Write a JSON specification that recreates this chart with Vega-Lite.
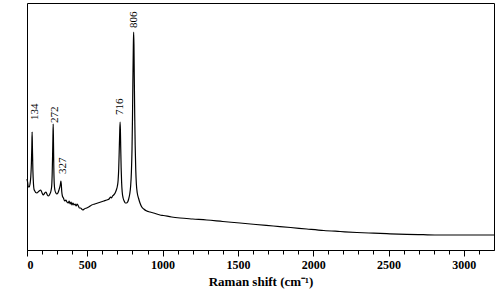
{
  "$schema": "https://vega.github.io/schema/vega-lite/v6.json",
  "width": 467,
  "height": 247,
  "autosize": {"type": "none"},
  "padding": {"left": 27, "top": 3, "right": 6, "bottom": 46},
  "config": {
    "view": {"stroke": "black", "strokeWidth": 1},
    "font": "Liberation Serif",
    "axisX": {"ticks": true, "tickColor": "#000000", "tickWidth": 1, "tickOpacity": 1, "zindex": 2, "tickRound": true}
  },
  "datasets": {
    "spectrum": [
      {"shift": 100, "counts": 71}, {"shift": 104, "counts": 68}, {"shift": 109, "counts": 63},
      {"shift": 115, "counts": 63}, {"shift": 120, "counts": 66}, {"shift": 125, "counts": 73},
      {"shift": 129, "counts": 86}, {"shift": 132, "counts": 103}, {"shift": 134, "counts": 118},
      {"shift": 136, "counts": 102}, {"shift": 139, "counts": 80}, {"shift": 143, "counts": 66},
      {"shift": 148, "counts": 60}, {"shift": 165, "counts": 57}, {"shift": 180, "counts": 59},
      {"shift": 191, "counts": 60}, {"shift": 200, "counts": 57}, {"shift": 208, "counts": 55},
      {"shift": 218, "counts": 57}, {"shift": 226, "counts": 58}, {"shift": 235, "counts": 55},
      {"shift": 242, "counts": 54}, {"shift": 252, "counts": 56}, {"shift": 259, "counts": 59},
      {"shift": 264, "counts": 64}, {"shift": 267, "counts": 75}, {"shift": 270, "counts": 95},
      {"shift": 272, "counts": 112}, {"shift": 274, "counts": 126}, {"shift": 276, "counts": 105},
      {"shift": 278, "counts": 82}, {"shift": 281, "counts": 66}, {"shift": 285, "counts": 60},
      {"shift": 292, "counts": 57}, {"shift": 298, "counts": 56}, {"shift": 305, "counts": 57},
      {"shift": 312, "counts": 60}, {"shift": 318, "counts": 63}, {"shift": 322, "counts": 66},
      {"shift": 325, "counts": 69}, {"shift": 328, "counts": 65}, {"shift": 331, "counts": 58},
      {"shift": 335, "counts": 54}, {"shift": 342, "counts": 52}, {"shift": 350, "counts": 49},
      {"shift": 358, "counts": 50}, {"shift": 365, "counts": 48}, {"shift": 374, "counts": 47},
      {"shift": 380, "counts": 49}, {"shift": 386, "counts": 46}, {"shift": 393, "counts": 48},
      {"shift": 398, "counts": 45}, {"shift": 405, "counts": 47}, {"shift": 412, "counts": 45},
      {"shift": 419, "counts": 46}, {"shift": 426, "counts": 44}, {"shift": 433, "counts": 46},
      {"shift": 441, "counts": 44}, {"shift": 448, "counts": 42}, {"shift": 456, "counts": 42},
      {"shift": 463, "counts": 41}, {"shift": 470, "counts": 40}, {"shift": 480, "counts": 41},
      {"shift": 495, "counts": 42}, {"shift": 510, "counts": 43}, {"shift": 530, "counts": 45},
      {"shift": 550, "counts": 46}, {"shift": 570, "counts": 47}, {"shift": 590, "counts": 48},
      {"shift": 610, "counts": 49}, {"shift": 630, "counts": 50}, {"shift": 645, "counts": 51},
      {"shift": 655, "counts": 53}, {"shift": 660, "counts": 52}, {"shift": 668, "counts": 54},
      {"shift": 675, "counts": 55}, {"shift": 685, "counts": 57}, {"shift": 693, "counts": 60},
      {"shift": 700, "counts": 64}, {"shift": 705, "counts": 70}, {"shift": 709, "counts": 82},
      {"shift": 712, "counts": 98}, {"shift": 715, "counts": 115}, {"shift": 718, "counts": 128},
      {"shift": 720, "counts": 120}, {"shift": 722, "counts": 103}, {"shift": 725, "counts": 82},
      {"shift": 728, "counts": 68}, {"shift": 732, "counts": 58}, {"shift": 738, "counts": 52},
      {"shift": 745, "counts": 49}, {"shift": 752, "counts": 47}, {"shift": 760, "counts": 47},
      {"shift": 768, "counts": 48}, {"shift": 775, "counts": 51}, {"shift": 782, "counts": 56},
      {"shift": 788, "counts": 64}, {"shift": 793, "counts": 78}, {"shift": 797, "counts": 100},
      {"shift": 800, "counts": 130}, {"shift": 803, "counts": 170}, {"shift": 806, "counts": 205},
      {"shift": 808, "counts": 218}, {"shift": 810, "counts": 205}, {"shift": 812, "counts": 175},
      {"shift": 815, "counts": 135}, {"shift": 818, "counts": 105}, {"shift": 822, "counts": 80},
      {"shift": 826, "counts": 66}, {"shift": 832, "counts": 57}, {"shift": 840, "counts": 52},
      {"shift": 850, "counts": 47}, {"shift": 862, "counts": 43}, {"shift": 875, "counts": 41},
      {"shift": 895, "counts": 39}, {"shift": 917, "counts": 38}, {"shift": 940, "counts": 37},
      {"shift": 983, "counts": 35}, {"shift": 1005, "counts": 34.5}, {"shift": 1060, "counts": 33},
      {"shift": 1116, "counts": 32}, {"shift": 1200, "counts": 31}, {"shift": 1293, "counts": 30},
      {"shift": 1400, "counts": 28.5}, {"shift": 1514, "counts": 27}, {"shift": 1620, "counts": 25.5},
      {"shift": 1735, "counts": 24}, {"shift": 1850, "counts": 22.5}, {"shift": 1957, "counts": 21},
      {"shift": 2070, "counts": 19.5}, {"shift": 2178, "counts": 18.5}, {"shift": 2290, "counts": 17.5},
      {"shift": 2400, "counts": 16.8}, {"shift": 2510, "counts": 16.2}, {"shift": 2621, "counts": 15.7},
      {"shift": 2730, "counts": 15.3}, {"shift": 2842, "counts": 15}, {"shift": 2950, "counts": 15},
      {"shift": 3050, "counts": 15}, {"shift": 3200, "counts": 15}
    ],
    "peaks": [
      {"shift": 153, "counts": 130, "label": "134"},
      {"shift": 283, "counts": 127, "label": "272"},
      {"shift": 339, "counts": 76, "label": "327"},
      {"shift": 717, "counts": 135, "label": "716"},
      {"shift": 807, "counts": 222, "label": "806"}
    ]
  },
  "layer": [
    {
      "data": {"name": "spectrum"},
      "mark": {"type": "line", "color": "black", "strokeWidth": 1.2, "interpolate": "monotone"},
      "encoding": {
        "x": {
          "field": "shift", "type": "quantitative",
          "scale": {"domain": [100, 3200], "nice": false, "zero": false},
          "axis": {
            "orient": "bottom",
            "values": [100, 500, 1000, 1500, 2000, 2500, 3000],
            "labelExpr": "datum.value == 100 ? '0' : datum.label",
            "format": "d",
            "grid": false, "domainColor": "black",
            "tickSize": 6, "labelPadding": 3,
            "labelFont": "Liberation Serif", "labelFontWeight": "bold", "labelFontSize": 12, "labelColor": "black",
            "title": "Raman shift (cm⁻¹)",
            "titleFont": "Liberation Serif", "titleFontWeight": "bold", "titleFontSize": 13, "titleColor": "black",
            "titlePadding": 5
          }
        },
        "y": {
          "field": "counts", "type": "quantitative",
          "scale": {"domain": [0, 247], "nice": false},
          "axis": {
            "title": "Counts", "labels": false, "ticks": false, "grid": false, "domain": false,
            "titleFont": "Liberation Serif", "titleFontWeight": "bold", "titleFontSize": 13, "titleColor": "black",
            "titlePadding": 10
          }
        }
      }
    },
    {
      "data": {"name": "peaks"},
      "mark": {"type": "text", "angle": 270, "align": "left", "baseline": "middle", "fontSize": 11, "font": "Liberation Serif", "color": "black", "fill": "black"},
      "encoding": {
        "x": {
          "field": "shift", "type": "quantitative",
          "axis": {
            "orient": "bottom",
            "values": [200, 300, 400, 600, 700, 800, 900, 1100, 1200, 1300, 1400, 1600, 1700, 1800, 1900, 2100, 2200, 2300, 2400, 2600, 2700, 2800, 2900, 3100],
            "labels": true, "labelExpr": "''", "grid": false, "domain": false, "title": null,
            "tickSize": 4
          }
        },
        "y": {"field": "counts", "type": "quantitative", "axis": null},
        "text": {"field": "label", "type": "nominal"}
      }
    }
  ],
  "resolve": {"scale": {"x": "shared"}, "axis": {"x": "independent"}}
}
